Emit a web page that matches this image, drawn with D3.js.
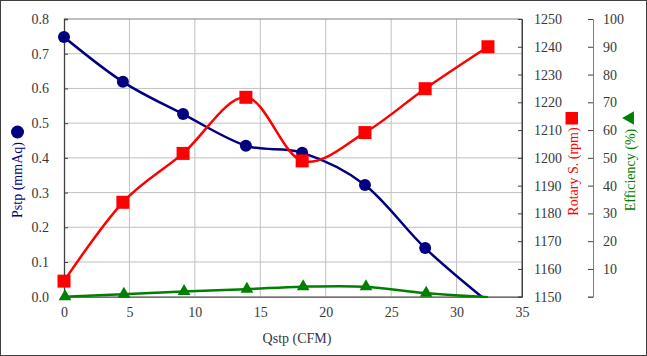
<!DOCTYPE html>
<html><head><meta charset="utf-8">
<script src="https://cdn.jsdelivr.net/npm/d3@7/dist/d3.min.js"></script>
</head><body style="margin:0;background:#fff"><svg id="c" width="647" height="356" style="display:block"></svg>
<script>
const qstp = [0, 4.5, 9.1, 13.9, 18.2, 23.0, 27.6, 32.4];
const pstp = [0.748, 0.619, 0.526, 0.435, 0.415, 0.322, 0.140, -0.015];
const rpm = [1155.6, 1184.0, 1201.6, 1221.8, 1198.9, 1209.1, 1224.9, 1240.0];
const eff = [0.0, 0.9, 1.9, 2.7, 3.6, 3.6, 1.3, -0.2];
const xTicks = [0, 5, 10, 15, 20, 25, 30, 35];
const pTicks = [0, 0.1, 0.2, 0.3, 0.4, 0.5, 0.6, 0.7, 0.8];
const rTicks = [1150, 1160, 1170, 1180, 1190, 1200, 1210, 1220, 1230, 1240, 1250];
const eTicks = [0, 10, 20, 30, 40, 50, 60, 70, 80, 90, 100];

const FONT = '"Liberation Serif", monospace';
const svg = d3.select("#c");
const L = 64, R = 522, T = 19, B = 296.7;
const x = d3.scaleLinear().domain([0, 35]).range([L, R]);
const yP = d3.scaleLinear().domain([0, 0.8]).range([B, T]);
const yR = d3.scaleLinear().domain([1150, 1250]).range([B, T]);
const yE = d3.scaleLinear().domain([0, 100]).range([B, T]);

svg.append("rect").attr("x", 0.5).attr("y", 0.5).attr("width", 646).attr("height", 355)
  .attr("fill", "#fff").attr("stroke", "#404040");

// grid
const g = svg.append("g");
g.selectAll("line.v").data(xTicks.slice(1, -1)).join("line")
  .attr("x1", d => x(d)).attr("x2", d => x(d)).attr("y1", T).attr("y2", B)
  .attr("stroke", "#c0c0c0").attr("stroke-width", 1);
g.selectAll("line.h").data(pTicks.slice(1, -1)).join("line")
  .attr("x1", L).attr("x2", R).attr("y1", d => yP(d)).attr("y2", d => yP(d))
  .attr("stroke", "#c0c0c0").attr("stroke-width", 1);

// frame
svg.append("line").attr("x1", L).attr("x2", R).attr("y1", T).attr("y2", T).attr("stroke", "#808080");
svg.append("line").attr("x1", R).attr("x2", R).attr("y1", T).attr("y2", B).attr("stroke", "#404040");

// axes
const axL = d3.axisLeft(yP).tickValues(pTicks).tickFormat(d3.format(".1f")).tickSize(-4).tickPadding(15);
const gl = svg.append("g").attr("transform", `translate(${L},0)`).call(axL);
const axB = d3.axisBottom(x).tickValues(xTicks).tickSize(0).tickPadding(10);
const gb = svg.append("g").attr("transform", `translate(0,${B})`).call(axB);
const axR = d3.axisRight(yR).tickValues(rTicks).tickFormat(d3.format("d")).tickSize(-4).tickPadding(12);
const gr = svg.append("g").attr("transform", `translate(${R},0)`).call(axR);
const axE = d3.axisRight(yE).tickValues(eTicks).tickSize(-5).tickPadding(10)
  .tickFormat(d => d === 0 ? "" : d);
const ge = svg.append("g").attr("transform", `translate(593,0)`).call(axE);
[gl, gb, gr, ge].forEach(a => {
  a.attr("font-family", "Liberation Serif").attr("font-size", 14);
  a.selectAll("text").attr("font-family", "Liberation Serif").style("font-family", FONT)
    .attr("font-size", 14).attr("fill", "#383838");
  a.selectAll(".tick line").attr("stroke", "#404040");
  a.select(".domain").attr("stroke", "#404040");
});
gb.select(".domain").attr("stroke-width", 1.3);
gl.select(".domain").attr("stroke-width", 1.3);
ge.select(".domain").attr("stroke", "#808080");

// clip
svg.append("clipPath").attr("id", "clip").append("rect")
  .attr("x", L).attr("y", T - 5).attr("width", R - L + 10).attr("height", B - T + 6);

const curve = d3.curveCardinal.tension(0);
function series(vals, ys, color) {
  const pts = qstp.map((q, i) => [q, vals[i]]);
  svg.append("path").datum(pts)
    .attr("d", d3.line().x(d => x(d[0])).y(d => ys(d[1])).curve(curve))
    .attr("fill", "none").attr("stroke", color).attr("stroke-width", 2.5)
    .attr("clip-path", "url(#clip)");
  return pts.filter(d => d[1] >= ys.domain()[0]);
}
const pP = series(pstp, yP, "#000080");
const pR = series(rpm, yR, "#ff0000");
const pE = series(eff, yE, "#008000");

svg.selectAll("circle.m").data(pP).join("circle")
  .attr("cx", d => x(d[0])).attr("cy", d => yP(d[1])).attr("r", 6).attr("fill", "#000080");
svg.selectAll("rect.m").data(pR).join("rect")
  .attr("x", d => x(d[0]) - 6.5).attr("y", d => yR(d[1]) - 6.5).attr("width", 13).attr("height", 13).attr("fill", "#ff0000");
const tri = d3.symbol().type(d3.symbolTriangle).size(70);
svg.selectAll("path.m").data(pE).join("path")
  .attr("transform", d => `translate(${x(d[0]) + 1},${yE(d[1])})`).attr("d", tri).attr("fill", "#008000");

// titles
function title(tr, txt, color, size) {
  svg.append("text").attr("transform", tr).attr("text-anchor", "middle")
    .attr("font-family", "Liberation Serif").style("font-family", FONT)
    .attr("font-size", size).attr("fill", color).text(txt);
}
title("translate(297,343)", "Qstp (CFM)", "#383838", 14);
title("translate(22,180) rotate(-90)", "Pstp (mmAq)", "#000080", 14);
svg.append("circle").attr("cx", 17.5).attr("cy", 132).attr("r", 6.5).attr("fill", "#000080");
title("translate(578,171.5) rotate(-90)", "Rotary S. (rpm)", "#ff0000", 14);
svg.append("rect").attr("x", 565.5).attr("y", 112).attr("width", 12.5).attr("height", 12.5).attr("fill", "#ff0000");
title("translate(635,170) rotate(-90)", "Efficiency (%)", "#008000", 14);
svg.append("path").attr("transform", "translate(630,118) rotate(-90)")
  .attr("d", d3.symbol().type(d3.symbolTriangle).size(80)).attr("fill", "#008000");
</script></body></html>
